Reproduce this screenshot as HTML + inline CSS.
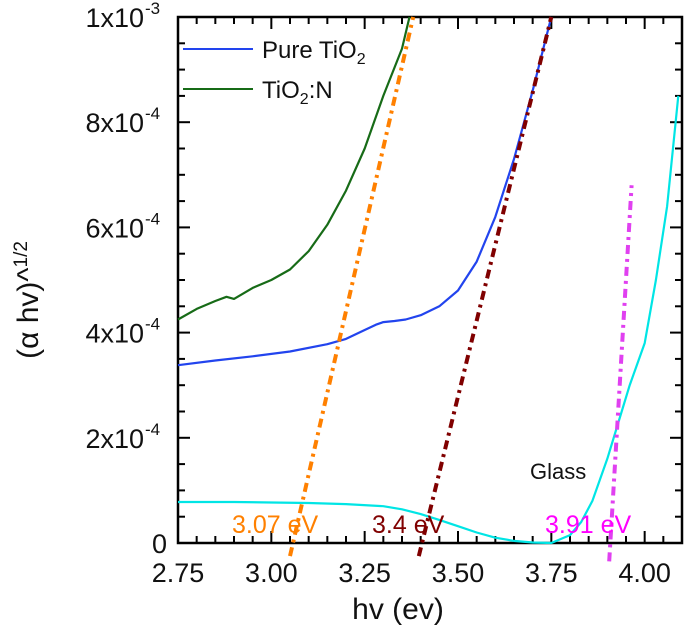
<!DOCTYPE html>
<html><head><meta charset="utf-8"><style>
body{margin:0;background:#fff;width:685px;height:625px;overflow:hidden}
svg text{font-family:"Liberation Sans",Arial,sans-serif}
</style></head><body>
<svg id="chart" width="685" height="625"></svg>
<script>
const xPure=[2.75,2.85,2.95,3.05,3.15,3.2,3.25,3.28,3.3,3.33,3.36,3.4,3.45,3.5,3.55,3.6,3.65,3.7,3.75];
const yPure=[3.38,3.47,3.55,3.64,3.78,3.88,4.05,4.15,4.2,4.22,4.25,4.33,4.5,4.8,5.35,6.2,7.3,8.6,10.0];
const xN=[2.75,2.8,2.85,2.88,2.9,2.95,3.0,3.05,3.1,3.15,3.2,3.25,3.3,3.35,3.37];
const yN=[4.25,4.45,4.6,4.68,4.64,4.85,5.0,5.2,5.55,6.05,6.7,7.5,8.5,9.4,10.0];
const xGlass=[2.75,2.9,3.0,3.1,3.2,3.3,3.35,3.4,3.45,3.5,3.55,3.6,3.65,3.7,3.75,3.8,3.83,3.86,3.9,3.93,3.96,4.0,4.03,4.06,4.09];
const yGlass=[0.78,0.78,0.77,0.76,0.74,0.7,0.64,0.55,0.44,0.32,0.2,0.1,0.04,0.01,0.0,0.15,0.4,0.8,1.6,2.3,3.0,3.8,5.0,6.4,8.5];
const fitX1=[3.05,3.38], fitY1=[-0.25,10.0];
const fitX2=[3.395,3.75], fitY2=[-0.25,10.0];
const fitX3=[3.905,3.965], fitY3=[-0.35,6.8];
const xTicks=[2.75,3.0,3.25,3.5,3.75,4.0];
const xTickLabels=["2.75","3.00","3.25","3.50","3.75","4.00"];
const yTicks=[0,2,4,6,8,10];
const yTickLabels=["0","2x10","4x10","6x10","8x10","1x10"];
const yExp=["","-4","-4","-4","-4","-3"];

const L=178,R=682,T=17,B=543;
const X=v=>L+(v-2.75)/(4.1-2.75)*(R-L);
const Y=v=>B-v/10*(B-T);
const NS="http://www.w3.org/2000/svg";
const svg=document.getElementById('chart');
function mk(tag,attrs,parent){const e=document.createElementNS(NS,tag);for(const k in attrs)e.setAttribute(k,attrs[k]);(parent||svg).appendChild(e);return e;}

const box=mk('rect',{x:L,y:T,width:R-L,height:B-T,fill:'none',stroke:'#000','stroke-width':2.5});



for(let v=2.75;v<=4.1001;v+=0.05){
  const major=xTicks.some(t=>Math.abs(t-v)<1e-6);
  const len=major?12:7;
  mk('line',{x1:X(v),x2:X(v),y1:B,y2:B-len,stroke:'#000','stroke-width':2});
  mk('line',{x1:X(v),x2:X(v),y1:T,y2:T+len,stroke:'#000','stroke-width':2});
}
xTicks.forEach((v,i)=>{
  const t=mk('text',{x:X(v),y:582,'font-size':27,'text-anchor':'middle',fill:'#111'});
  t.textContent=xTickLabels[i];
  
  
});
for(let v=0;v<=10.001;v+=0.5){
  const major=Math.abs(v-Math.round(v/2)*2)<1e-6;
  const len=major?12:7;
  mk('line',{x1:L,x2:L+len,y1:Y(v),y2:Y(v),stroke:'#000','stroke-width':2});
  mk('line',{x1:R,x2:R-len,y1:Y(v),y2:Y(v),stroke:'#000','stroke-width':2});
}
yTicks.forEach((v,i)=>{
  const t=mk('text',{x:yExp[i]?144:167,y:Y(v)+10,'font-size':27,'text-anchor':'end',fill:'#111'});
  t.textContent=yTickLabels[i];
  
  
  if(yExp[i]){const s=mk('text',{x:145,y:Y(v)-3,'font-size':17,fill:'#111'});s.textContent=yExp[i];}
});

function line(xs,ys,color,w,dash,name){
  const p=mk('path',{d:xs.map((x,i)=>(i?'L':'M')+X(x).toFixed(1)+','+Y(ys[i]).toFixed(1)).join(''),fill:'none',stroke:color,'stroke-width':w,'stroke-linejoin':'round'});
  if(dash)p.setAttribute('stroke-dasharray',dash);
  
  
}
line(xGlass,yGlass,'#00e5e5',2.2,null,'glass-line');
line(xN,yN,'#176b17',2.2,null,'tio2-n-line');
line(xPure,yPure,'#2244ee',2.2,null,'pure-tio2-line');
line(fitX1,fitY1,'#ff8000',4,'9,5,3,5','fit-line-3-07');
line(fitX2,fitY2,'#800000',4,'9,5,3,5','fit-line-3-4');
line(fitX3,fitY3,'#e040f0',4,'9,5,3,5','fit-line-3-91');

function txt(x,y,s,size,color,name,anchor){const t=mk('text',{x:x,y:y,'font-size':size,fill:color,'text-anchor':anchor||'start'});t.textContent=s;return t;}
txt(232,533,'3.07 eV',25,'#ff8000','label-3-07-ev');
txt(372,533,'3.4 eV',25,'#800000','label-3-4-ev');
txt(545,533,'3.91 eV',25,'#ff00ff','label-3-91-ev');
txt(530,479,'Glass',22,'#111','glass-label');

mk('line',{x1:183,x2:253,y1:49,y2:49,stroke:'#2244ee','stroke-width':2});
const l1=txt(262,58,'Pure TiO',24,'#111','legend-pure-tio2');
const s1=mk('tspan',{'font-size':16,dy:6},l1);s1.textContent='2';
mk('line',{x1:183,x2:253,y1:89,y2:89,stroke:'#176b17','stroke-width':2});
const l2=txt(262,98,'TiO',24,'#111','legend-tio2-n');
const s2=mk('tspan',{'font-size':16,dy:6},l2);s2.textContent='2';
const s3=mk('tspan',{dy:-6},l2);s3.textContent=':N';

txt(398,619,'hv (ev)',30,'#111','x-axis-title','middle');
const yt=mk('text',{x:0,y:0,'font-size':30,fill:'#111','text-anchor':'middle',transform:'translate(38,300) rotate(-90)'});
yt.textContent='(α hv)^';
const ys=mk('tspan',{'font-size':19,dy:-11},yt);ys.textContent='1/2';


</script>
</body></html>
